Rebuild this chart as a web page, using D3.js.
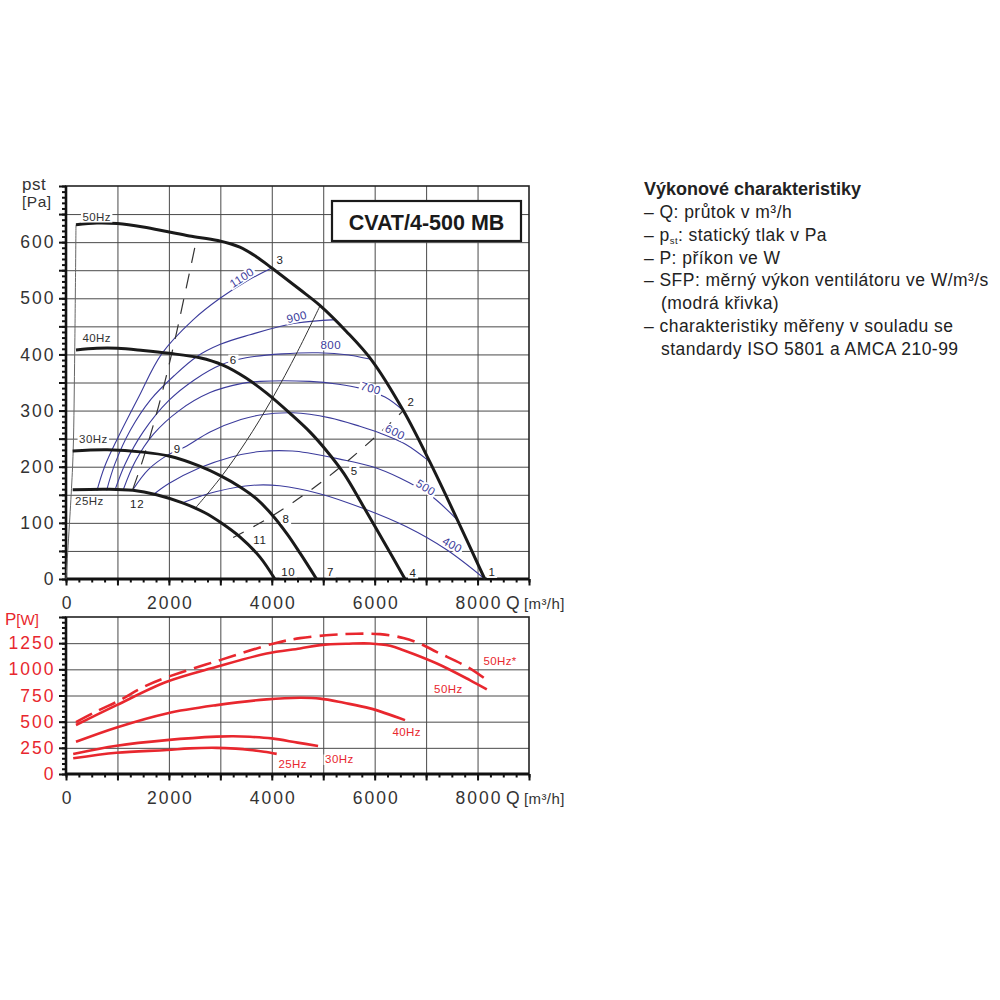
<!DOCTYPE html>
<html><head><meta charset="utf-8">
<script src="https://cdn.jsdelivr.net/npm/d3@7"></script>
<style>
body{margin:0;background:#fff}
svg{display:block}
text{font-family:"Liberation Sans",Arial,Helvetica,sans-serif}
</style>
</head><body>
<svg id="c" width="1000" height="1000"></svg>
<script>
// ---------------- DATA ----------------
const qTicks = [0, 2000, 4000, 6000, 8000];
const pTicks = [0, 100, 200, 300, 400, 500, 600];
const wTicks = [0, 250, 500, 750, 1000, 1250];

// fan curves p_st [Pa] vs Q [m3/h]
const speedNames = ["50Hz", "40Hz", "30Hz", "25Hz"];
const p50 = [[194,631],[600,634],[1000,633],[1500,627],[1960,619],[2400,611],[2950,603],[3380,591],[3700,574],[4000,554],[4540,516],[4940,487],[5450,441],[5940,390],[6557,300],[7070,209],[7610,105],[8140,0]];
const p40 = [[194,408],[600,411],[1000,411],[1500,407],[2000,402],[2600,394],[3050,381],[3500,358],[3900,331],[4355,295],[4740,262],[5068,228],[5400,188],[5770,131],[6180,66],[6590,0]];
const p30 = [[130,228],[800,230],[1500,226],[2000,219],[2600,201],[3000,184],[3400,163],[3700,143],[4000,115],[4300,80],[4550,46],[4870,0]];
const p25 = [[130,159],[790,160],[1300,158],[1760,150],[2280,135],[2700,118],[3000,101],[3380,75],[3770,39],[4060,0]];
const speedLabelAt = [[596,645],[596,429],[531,249],[453,139]];

// start line from origin
const startLine = [[0,0],[100,150],[140,230],[170,408],[194,631]];

// system curves
const sysA = [[1300,160],[1500,214],[1800,308],[2100,419],[2300,503],[2550,610]];   // dashed, steep
const sysB = [[2530,128],[3000,180],[3500,245],[4000,320],[4500,405],[4940,487]];   // thin solid
const sysC = [[3250,74],[4000,112],[5000,175],[6000,252],[6557,300]];               // dashed, flat

// SFP curves (blue)
const sfpNames = ["1100", "900", "800", "700", "600", "500", "400"];
const sfp1100 = [[600,157],[750,200],[1000,250],[1400,322],[1860,401],[2475,462],[2994,500],[3500,530],[4000,554]];
const sfp900  = [[790,158],[950,205],[1250,265],[1650,320],[2100,362],[2540,396],[3000,418],[3577,435],[4419,455],[5250,462]];
const sfp800  = [[950,158],[1150,205],[1500,262],[2000,318],[2500,355],[3026,382],[3500,394],[4200,401],[4900,403],[5500,399],[5942,391]];
const sfp700  = [[1113,159],[1350,210],[1700,258],[2200,300],[2800,332],[3400,348],[3770,352],[4740,352],[5300,347],[5710,340],[6200,324],[6557,300]];
const sfp600  = [[1307,160],[1600,195],[2000,222],[2310,235],[2800,262],[3400,284],[3770,292],[4410,296],[5130,287],[5710,272],[6100,260],[6600,240],[7070,209]];
const sfp500  = [[1695,150],[2000,170],[2600,198],[3200,217],[3770,227],[4400,228],[4740,224],[5300,214],[5960,200],[6490,180],[7070,150],[7610,105]];
const sfp400  = [[2247,135],[2600,147],[2926,156],[3640,167],[4155,166],[4930,152],[5770,126],[6620,93],[7400,52],[8140,0]];
const sfpLabelAt = [[3416,537,-33],[4485,467,-14],[5146,417,0],[5924,340,15],[6396,262,27],[6993,163,32],[7510,61,29]];

// operating point numbers
const pointNames = ["1","2","3","4","5","6","7","8","9","10","11","12"];
const pointAt = [[8281,12],[6707,315],[4160,568],[6746,11],[5605,193],[3253,391],[5145,13],[4277,108],[2164,231],[4322,13],[3771,69],[1386,133]];

// power curves P [W]
const powNames = ["50Hz*", "50Hz", "40Hz", "30Hz", "25Hz"];
const w50s = [[194,496],[600,600],[1050,706],[1500,830],[2022,935],[2994,1088],[4063,1250],[4549,1298],[5200,1330],[5650,1340],[6104,1336],[6557,1300],[6882,1245],[7210,1165],[7850,1010],[8180,897]];
const w50  = [[194,468],[985,658],[1958,881],[2930,1024],[3900,1151],[4550,1199],[4940,1231],[5500,1245],[5910,1247],[6300,1225],[6560,1183],[7210,1056],[7850,897],[8180,808]];
const w40  = [[194,308],[985,445],[1958,579],[2930,658],[3900,713],[4550,728],[4940,720],[5400,680],[5910,627],[6590,515]];
const w30  = [[140,191],[985,270],[1958,324],[2930,357],[3250,360],[3575,356],[4000,340],[4500,300],[4900,268]];
const w25  = [[140,150],[985,203],[1958,229],[2400,245],[2930,250],[3300,242],[3575,230],[3850,212],[4096,192]];
const powLabelAt = [[8437,1081],[7432,818],[6623,398],[5313,140],[4407,95]];

const legendTitle = "Výkonové charakteristiky";
const legendLines = ["– Q: průtok v m³/h", "– p|st|: statický tlak v Pa", "– P: příkon ve W", "– SFP: měrný výkon ventilátoru ve W/m³/s", "  (modrá křivka)", "– charakteristiky měřeny v souladu se", "  standardy ISO 5801 a AMCA 210-99"];
const modelName = "CVAT/4-500 MB";

// ---------------- DRAW ----------------
const svg = d3.select("#c");
const RED = "#e8272e", BLUE = "#3c3c9c", TXT = "#333";

const x = d3.scaleLinear().domain([0, 9000]).range([66, 529]);
const yP = d3.scaleLinear().domain([0, 700]).range([579, 186]);
const yW = d3.scaleLinear().domain([0, 1500]).range([774, 617]);

function panel(y, yMax, hStep, minorY, majorY, tickVals, tickColor, tickFmt) {
  const g = svg.append("g");
  const y0 = y(0), yTop = y(yMax);
  g.append("rect").attr("x", x(0)).attr("y", yTop).attr("width", x(9000) - x(0)).attr("height", y0 - yTop).attr("fill", "#fff");
  const gx = g.append("g").attr("transform", `translate(0,${y0})`)
    .call(d3.axisBottom(x).tickValues(d3.range(1000, 9000, 1000)).tickSize(-(y0 - yTop)).tickFormat(""));
  gx.select(".domain").remove();
  gx.selectAll("line").attr("stroke", "#4a4a4a").attr("stroke-width", 1);
  const gy = g.append("g").attr("transform", `translate(${x(0)},0)`)
    .call(d3.axisRight(y).tickValues(d3.range(hStep, yMax, hStep)).tickSize(x(9000) - x(0)).tickFormat(""));
  gy.select(".domain").remove();
  gy.selectAll("line").attr("stroke", "#4a4a4a").attr("stroke-width", 1);
  g.append("rect").attr("x", x(0)).attr("y", yTop).attr("width", x(9000) - x(0)).attr("height", y0 - yTop)
    .attr("fill", "none").attr("stroke", "#222").attr("stroke-width", 1.6);
  const tk = (axis, tr) => {
    const a = g.append("g").attr("transform", tr).call(axis);
    a.select(".domain").remove();
    a.selectAll("line").attr("stroke", "#111").attr("stroke-width", 2);
    return a;
  };
  tk(d3.axisBottom(x).tickValues(d3.range(0, 9001, 250)).tickSize(3.5).tickFormat(""), `translate(0,${y0})`);
  tk(d3.axisBottom(x).tickValues(d3.range(0, 9001, 1000)).tickSize(6.5).tickFormat(""), `translate(0,${y0})`);
  tk(d3.axisLeft(y).tickValues(d3.range(0, yMax + 0.1, minorY)).tickSize(4).tickFormat(""), `translate(${x(0)},0)`);
  tk(d3.axisLeft(y).tickValues(d3.range(0, yMax + 0.1, majorY)).tickSize(7).tickFormat(""), `translate(${x(0)},0)`);
  g.append("line").attr("x1", x(0)).attr("x2", x(0)).attr("y1", yTop).attr("y2", y0).attr("stroke", "#111").attr("stroke-width", 2.6);
  g.append("line").attr("x1", x(0) - 1).attr("x2", x(9000)).attr("y1", y0).attr("y2", y0).attr("stroke", "#111").attr("stroke-width", 2.8);
  const lx = g.append("g").attr("transform", `translate(0,${y0})`)
    .call(d3.axisBottom(x).tickValues(qTicks).tickSize(0).tickPadding(17.6).tickFormat(d3.format("d")));
  lx.select(".domain").remove();
  lx.selectAll("text").attr("fill", TXT).attr("dx", "1").style("font-size", "17.5px").style("letter-spacing", "2px")
    .style("font-family", '"Liberation Sans",Arial,sans-serif');
  const ly = g.append("g").attr("transform", `translate(${x(0)},0)`)
    .call(d3.axisLeft(y).tickValues(tickVals).tickSize(0).tickPadding(10.5).tickFormat(tickFmt));
  ly.select(".domain").remove();
  ly.selectAll("text").attr("fill", tickColor).style("font-size", "17.5px").style("letter-spacing", "2px")
    .style("font-family", '"Liberation Sans",Arial,sans-serif');
  const qt = g.append("text").attr("y", y0 + 30).attr("fill", TXT).style("font-size", "17.5px");
  qt.append("tspan").attr("x", 506).text("Q");
  qt.append("tspan").attr("x", 524).style("font-size", "15px").style("letter-spacing", "0.4px").text("[m³/h]");
  return g;
}

const topPanel = panel(yP, 700, 50, 10, 50, pTicks, TXT, d3.format("d"));
const botPanel = panel(yW, 1500, 250, 50, 250, wTicks, RED, d3.format("d"));

svg.append("text").attr("x", 22).attr("y", 190).attr("fill", TXT).style("font-size", "17px").style("letter-spacing", "0.5px").text("pst");
svg.append("text").attr("x", 22).attr("y", 207).attr("fill", TXT).style("font-size", "15.5px").style("letter-spacing", "0.5px").text("[Pa]");
const pw = svg.append("text").attr("x", 5).attr("y", 625).attr("fill", RED).style("font-size", "17px");
pw.append("tspan").text("P");
pw.append("tspan").style("font-size", "15px").text("[W]");

function label(px, py, txt, opt) {
  const o = Object.assign({ size: 11, color: "#222", angle: 0, ls: 0.4, bg: true }, opt || {});
  const grp = svg.append("g").attr("transform", `translate(${px},${py}) rotate(${o.angle})`);
  const r = grp.append("rect").attr("fill", "#fff");
  const t = grp.append("text").attr("text-anchor", "middle").attr("dy", "0.36em").attr("fill", o.color)
    .style("font-size", o.size + "px").style("letter-spacing", o.ls + "px").text(txt);
  if (o.bg) {
    const b = t.node().getBBox();
    r.attr("x", b.x - 1.5).attr("y", b.y + 1).attr("width", b.width + 3).attr("height", b.height - 1.5);
  }
}

const smooth = d3.curveCatmullRom.alpha(0.5);
const lineQP = d3.line().x(d => x(d[0])).y(d => yP(d[1])).curve(smooth);
const lineQW = d3.line().x(d => x(d[0])).y(d => yW(d[1])).curve(smooth);

svg.append("path").attr("d", lineQP(startLine)).attr("fill", "none").attr("stroke", "#666").attr("stroke-width", 1);

[sfp1100, sfp900, sfp800, sfp700, sfp600, sfp500, sfp400].forEach(c => {
  svg.append("path").attr("d", lineQP(c)).attr("fill", "none").attr("stroke", BLUE).attr("stroke-width", 1.1);
});

svg.append("path").attr("d", lineQP(sysA)).attr("fill", "none").attr("stroke", "#333").attr("stroke-width", 1.2).attr("stroke-dasharray", "15,11");
svg.append("path").attr("d", lineQP(sysB)).attr("fill", "none").attr("stroke", "#333").attr("stroke-width", 1);
svg.append("path").attr("d", lineQP(sysC)).attr("fill", "none").attr("stroke", "#333").attr("stroke-width", 1.2).attr("stroke-dasharray", "12,11");

[p50, p40, p30, p25].forEach(c => {
  svg.append("path").attr("d", lineQP(c)).attr("fill", "none").attr("stroke", "#1a1a1a").attr("stroke-width", 3);
});

svg.append("path").attr("d", lineQW(w50s)).attr("fill", "none").attr("stroke", RED).attr("stroke-width", 2.6).attr("stroke-dasharray", "18,8");
[w50, w40, w30, w25].forEach(c => {
  svg.append("path").attr("d", lineQW(c)).attr("fill", "none").attr("stroke", RED).attr("stroke-width", 2.6);
});

speedNames.forEach((n, i) => label(x(speedLabelAt[i][0]), yP(speedLabelAt[i][1]), n, { size: 11.5, color: "#333" }));
sfpNames.forEach((n, i) => label(x(sfpLabelAt[i][0]), yP(sfpLabelAt[i][1]), n, { size: 11.5, color: BLUE, angle: sfpLabelAt[i][2] }));
pointNames.forEach((n, i) => label(x(pointAt[i][0]), yP(pointAt[i][1]), n, { size: 11.5, color: "#222", ls: 0.8 }));
powNames.forEach((n, i) => label(x(powLabelAt[i][0]), yW(powLabelAt[i][1]), n, { size: 11.5, color: RED }));

svg.append("rect").attr("x", 332).attr("y", 201).attr("width", 189).attr("height", 40).attr("fill", "#fff").attr("stroke", "#1a1a1a").attr("stroke-width", 2.2);
svg.append("text").attr("x", 426.5).attr("y", 229.5).attr("text-anchor", "middle").attr("fill", "#1a1a1a")
  .style("font-size", "21.5px").style("font-weight", "bold").text(modelName);

svg.append("text").attr("x", 644).attr("y", 195).attr("fill", "#222").style("font-size", "18px").style("font-weight", "bold").text(legendTitle);
legendLines.forEach((s, i) => {
  const t = svg.append("text").attr("x", 644).attr("y", 218 + i * 22.8).attr("fill", "#222")
    .style("font-size", "17.5px").style("letter-spacing", "0.45px");
  let str = s, indent = false;
  if (str.startsWith("  ")) { indent = true; str = str.slice(2); }
  if (indent) t.attr("x", 661);
  const parts = str.split("|");
  if (parts.length === 3) {
    t.append("tspan").text(parts[0]);
    t.append("tspan").attr("dy", 3).style("font-size", "9.5px").text(parts[1]);
    t.append("tspan").attr("dy", -3).text(parts[2]);
  } else {
    t.text(str);
  }
});
</script>
</body></html>
